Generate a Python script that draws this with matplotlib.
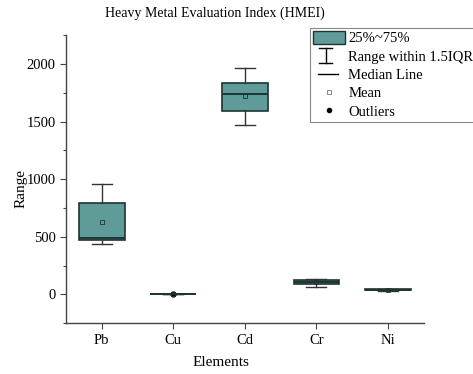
import matplotlib
matplotlib.use("Agg")
import matplotlib.pyplot as plt
from matplotlib.patches import Patch
from matplotlib.lines import Line2D
from matplotlib.legend_handler import HandlerBase

plt.rcParams['font.family'] = ['Liberation Serif', 'DejaVu Serif']

# values
elements = ['Pb', 'Cu', 'Cd', 'Cr', 'Ni']
q1 = [470, 0, 1591, 87, 36]
med = [487, 0, 1742, 107, 41]
q3 = [791, 0, 1835, 125, 47]
whislo = [435, 0, 1467, 61, 33]
whishi = [957, 0, 1963, 133, 50]
means = [629, 0, 1718, 106, 41]
fliers = [[], [0], [], [], []]

BOX_COLOR = '#5f9c99'
EDGE = '#1e3434'


class HandlerRange(HandlerBase):
    # the "I" symbol for the whisker range
    def create_artists(self, legend, orig_handle, xdescent, ydescent,
                       width, height, fontsize, trans):
        cx = width * 0.4 - xdescent
        cy = height / 2 - ydescent
        h = 5.5
        cw = 4.5
        lines = [
            Line2D([cx, cx], [cy - h, cy + h]),
            Line2D([cx - cw, cx + cw], [cy - h, cy - h]),
            Line2D([cx - cw, cx + cw], [cy + h, cy + h]),
        ]
        for l in lines:
            l.set_color('black')
            l.set_linewidth(1.0)
            l.set_transform(trans)
        return lines


class HandlerMedian(HandlerBase):
    def create_artists(self, legend, orig_handle, xdescent, ydescent,
                       width, height, fontsize, trans):
        cy = height / 2 - ydescent
        l = Line2D([width * 0.17 - xdescent, width * 0.8 - xdescent], [cy, cy],
                   color='black', linewidth=1.0)
        l.set_transform(trans)
        return [l]


fig = plt.figure(figsize=(4.73, 3.74), dpi=100)
ax = fig.add_axes([0.1395, 0.136, 0.7565, 0.77])

stats = []
for i in range(len(elements)):
    stats.append(dict(label=elements[i], q1=q1[i], med=med[i], q3=q3[i],
                      whislo=whislo[i], whishi=whishi[i], mean=means[i],
                      fliers=fliers[i]))

ax.bxp(stats, positions=range(1, len(elements) + 1), widths=0.64,
       showmeans=True, patch_artist=True,
       boxprops=dict(facecolor=BOX_COLOR, edgecolor=EDGE, linewidth=1.2),
       medianprops=dict(color=EDGE, linewidth=1.4),
       whiskerprops=dict(color='#333333', linewidth=1.0),
       capprops=dict(color='#333333', linewidth=1.0),
       capwidths=0.28,
       meanprops=dict(marker='s', markersize=3, markerfacecolor='none',
                      markeredgecolor=EDGE, markeredgewidth=0.6),
       flierprops=dict(marker='o', markersize=3.5, markerfacecolor='black',
                       markeredgecolor='black'))

ax.set_xlim(0.5, 5.5)
ax.set_ylim(-250, 2250)
ax.set_yticks([0, 500, 1000, 1500, 2000])
ax.set_yticks([-250, 250, 750, 1250, 1750, 2250], minor=True)
ax.spines['top'].set_visible(False)
ax.spines['right'].set_visible(False)
for s in ['left', 'bottom']:
    ax.spines[s].set_color('#444444')
    ax.spines[s].set_linewidth(1.0)
ax.tick_params(axis='both', labelsize=10.5, color='#444444', length=4, width=0.8)
ax.tick_params(axis='y', which='minor', length=2.5, width=0.8, color='#444444')
ax.set_xticklabels(elements)
ax.set_xlabel('Elements', fontsize=11)
ax.set_ylabel('Range', fontsize=11)
ax.xaxis.set_label_coords(0.433, -0.113)
ax.yaxis.set_label_coords(-0.108, 0.469)
fig.text(0.455, 0.965, 'Heavy Metal Evaluation Index (HMEI)', ha='center',
         va='center', fontsize=10)

rng_handle = object()
med_handle = object()
handles = [
    Patch(facecolor=BOX_COLOR, edgecolor=EDGE, linewidth=1.0),
    rng_handle,
    med_handle,
    Line2D([], [], linestyle='none', marker='s', markersize=3,
           markerfacecolor='none', markeredgecolor='#777777', markeredgewidth=0.6),
    Line2D([], [], linestyle='none', marker='o', markersize=3,
           markerfacecolor='black', markeredgecolor='black'),
]
labels = ['25%~75%', 'Range within 1.5IQR', 'Median Line', 'Mean', 'Outliers']
leg = fig.legend(handles, labels, loc='upper left',
                 bbox_to_anchor=(0.655, 0.925), fontsize=10.5, frameon=True,
                 fancybox=False, edgecolor='#888888', framealpha=1,
                 handlelength=2.2, handleheight=1.0, handletextpad=0.25,
                 labelspacing=0.26, borderpad=0.2, borderaxespad=0,
                 handler_map={rng_handle: HandlerRange(), med_handle: HandlerMedian()})
leg.get_frame().set_linewidth(0.8)

fig.savefig('out.png', dpi=100)
